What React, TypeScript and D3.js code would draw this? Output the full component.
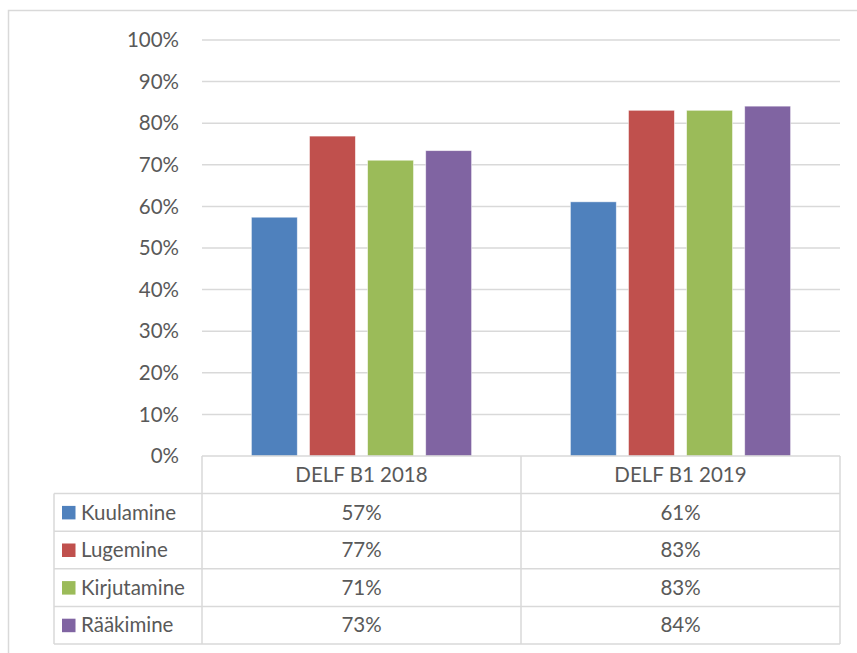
import React from 'react';
import * as d3 from 'd3';

const width = 857, height = 653;
const plot = { left: 202, right: 840, top: 40, bottom: 456 };
const rowH = 37.6;
const legendLeft = 54;

// data
const categories = ['DELF B1 2018', 'DELF B1 2019'];
const seriesNames = ['Kuulamine', 'Lugemine', 'Kirjutamine', 'Rääkimine'];
const colors = ['#4f81bd', '#c0504d', '#9bbb59', '#8064a2'];
const values2018 = [0.574, 0.769, 0.711, 0.734];
const values2019 = [0.611, 0.831, 0.831, 0.841];
const yTicks = [0, 0.1, 0.2, 0.3, 0.4, 0.5, 0.6, 0.7, 0.8, 0.9, 1];

const font = 'Lato, "Open Sans", sans-serif';
const fontSize = 20.5;
const textColor = '#595959';
const lineColor = '#d9d9d9';

export default function App() {
    const byCategory = [values2018, values2019];

    // scales for groups, bars and values
    const x0 = d3.scaleBand().domain(categories).range([plot.left, plot.right]);
    const x1 = d3.scaleBand().domain(seriesNames)
        .range([0, x0.bandwidth()]).paddingInner(0.21).paddingOuter(0.85);
    const y = d3.scaleLinear().domain([0, 1]).range([plot.bottom, plot.top]);
    const pct = d3.format('.0%');

    const tableBottom = plot.bottom + rowH * (seriesNames.length + 1);

    return (
        <svg width={width} height={height}
            style={{ position: 'absolute', left: 0, top: 0, display: 'block', background: '#fff' }}>
            {/* outer chart frame */}
            <rect x={8.5} y={10.5} width={900} height={700} fill="none" stroke={lineColor} strokeWidth={1.5} />

            {/* gridlines and y labels */}
            {yTicks.map(t => (
                <g key={t}>
                    {t > 0 && <line x1={plot.left} x2={plot.right} y1={y(t)} y2={y(t)}
                        stroke={lineColor} strokeWidth={1.5} />}
                    <text x={179} y={y(t)} dy="0.35em" textAnchor="end"
                        fontFamily={font} fontSize={fontSize} fill={textColor}>{pct(t)}</text>
                </g>
            ))}

            {/* bars */}
            {categories.map((c, ci) => (
                <g key={c} transform={`translate(${x0(c)},0)`}>
                    {seriesNames.map((s, si) => (
                        <rect key={s} x={x1(s)} width={x1.bandwidth()}
                            y={y(byCategory[ci][si])} height={y(0) - y(byCategory[ci][si])}
                            fill={colors[si]} stroke="#fff" strokeOpacity={0.6} strokeWidth={0.8} />
                    ))}
                </g>
            ))}

            {/* data table */}
            <g fill="none" stroke={lineColor} strokeWidth={1.5}>
                <line x1={plot.left} x2={plot.right} y1={plot.bottom} y2={plot.bottom} />
                {seriesNames.map((s, i) => (
                    <line key={s} x1={legendLeft} x2={plot.right}
                        y1={plot.bottom + rowH * (i + 1)} y2={plot.bottom + rowH * (i + 1)} />
                ))}
                <line x1={legendLeft} x2={plot.right} y1={tableBottom} y2={tableBottom} />
                <line x1={legendLeft} x2={legendLeft} y1={plot.bottom + rowH} y2={tableBottom} />
                <line x1={plot.left} x2={plot.left} y1={plot.bottom} y2={tableBottom} />
                <line x1={x0(categories[1])} x2={x0(categories[1])} y1={plot.bottom} y2={tableBottom} />
                <line x1={plot.right} x2={plot.right} y1={plot.bottom} y2={tableBottom} />
            </g>
            {categories.map(c => (
                <text key={c} x={x0(c) + x0.bandwidth() / 2} y={plot.bottom + rowH / 2} dy="0.35em"
                    textAnchor="middle" fontFamily={font} fontSize={fontSize} fill={textColor}>{c}</text>
            ))}
            {seriesNames.map((s, si) => {
                const cy = plot.bottom + rowH * (si + 1.5);
                return (
                    <g key={s}>
                        <rect x={62} y={cy - 6.5} width={13.5} height={13.5} fill={colors[si]} />
                        <text x={81} y={cy} dy="0.35em" fontFamily={font} fontSize={fontSize} fill={textColor}>{s}</text>
                        {categories.map((c, ci) => (
                            <text key={c} x={x0(c) + x0.bandwidth() / 2} y={cy} dy="0.35em"
                                textAnchor="middle" fontFamily={font} fontSize={fontSize} fill={textColor}>
                                {pct(Math.round(byCategory[ci][si] * 100) / 100)}
                            </text>
                        ))}
                    </g>
                );
            })}
        </svg>
    );
}
